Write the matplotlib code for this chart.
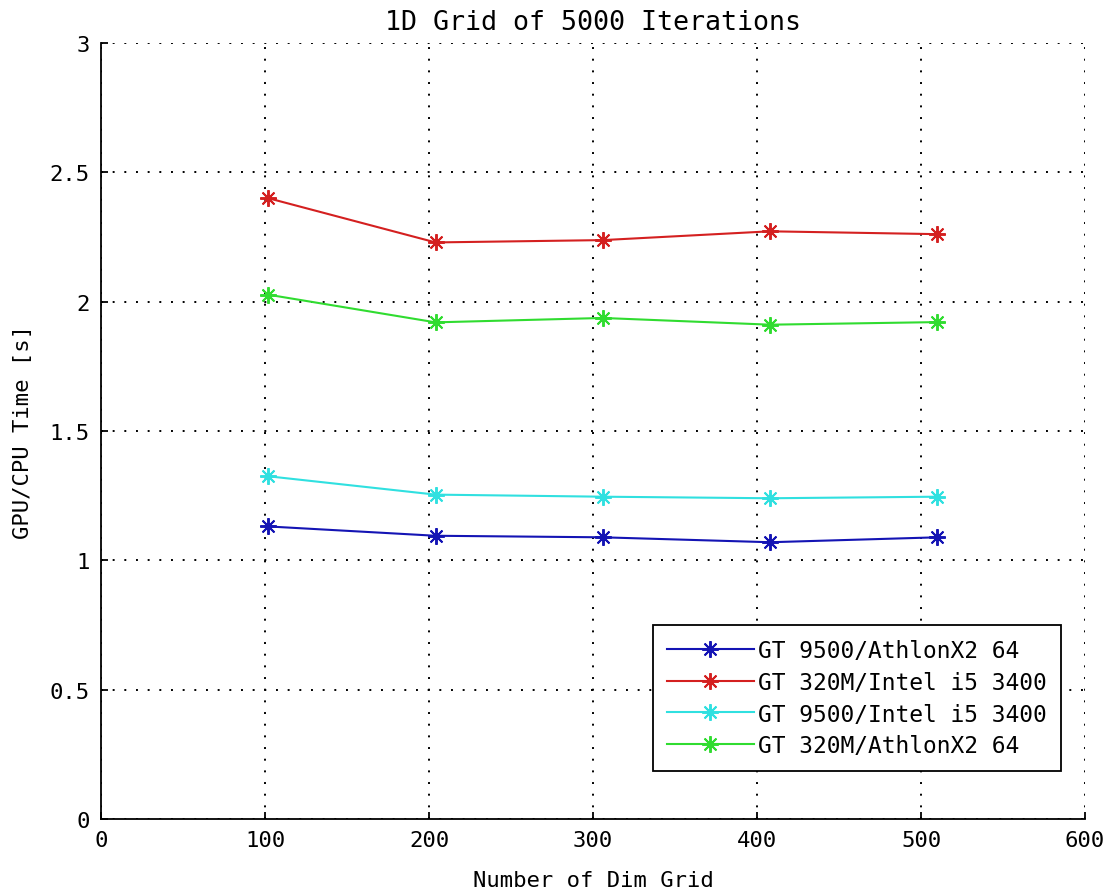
import matplotlib
matplotlib.use('Agg')
from matplotlib import pyplot as plt

# grid sizes and GPU/CPU timing ratios
grid_size = [102, 204, 306, 408, 510]

t_9500_athlon = [1.131, 1.095, 1.089, 1.070, 1.089]
t_320m_i5 = [2.400, 2.229, 2.238, 2.272, 2.261]
t_9500_i5 = [1.325, 1.254, 1.246, 1.240, 1.246]
t_320m_athlon = [2.027, 1.920, 1.937, 1.911, 1.921]

labels = ['GT 9500/AthlonX2 64', 'GT 320M/Intel i5 3400',
          'GT 9500/Intel i5 3400', 'GT 320M/AthlonX2 64']
colors = ['#1414b4', '#d42020', '#30e0e0', '#30dc30']

plt.rcParams['font.family'] = ['DejaVu Sans Mono']
plt.rcParams['font.size'] = 16

fig = plt.figure(figsize=(11.11, 8.95), dpi=100)
ax = fig.add_axes([101/1111, 75/895, 984/1111, 776/895])

star = (8, 2, 0)
series = [t_9500_athlon, t_320m_i5, t_9500_i5, t_320m_athlon]
for s, lab, c in zip(series, labels, colors):
    ax.plot(grid_size, s, color=c, lw=1.5, marker=star, ms=12, mew=1.4, label=lab)

ax.set_xlim(0, 600)
ax.set_ylim(0, 3)
ax.set_xticks([0, 100, 200, 300, 400, 500, 600])
ax.set_yticks([0, 0.5, 1, 1.5, 2, 2.5, 3])
ax.set_yticklabels(['0', '0.5', '1', '1.5', '2', '2.5', '3'])

ax.spines['top'].set_visible(False)
ax.spines['right'].set_visible(False)
ax.spines['left'].set_linewidth(1.3)
ax.spines['bottom'].set_linewidth(1.3)
ax.tick_params(direction='in', length=5, width=1.3, pad=8)

ax.grid(True, color='black', linestyle=(0, (1, 5)), linewidth=1.4)
ax.set_axisbelow(True)

ax.set_title('1D Grid of 5000 Iterations', pad=10)
ax.set_xlabel('Number of Dim Grid', labelpad=14)
ax.set_ylabel('GPU/CPU Time [s]', labelpad=12)

leg = ax.legend(loc='lower right', bbox_to_anchor=(0.9756, 0.0619), fancybox=False,
                edgecolor='black', framealpha=1, handlelength=3.8, handletextpad=0.2,
                borderpad=0.6, labelspacing=0.38, borderaxespad=0, fontsize=16.5)
leg.get_frame().set_linewidth(1.3)

fig.savefig('out.png', dpi=100)
